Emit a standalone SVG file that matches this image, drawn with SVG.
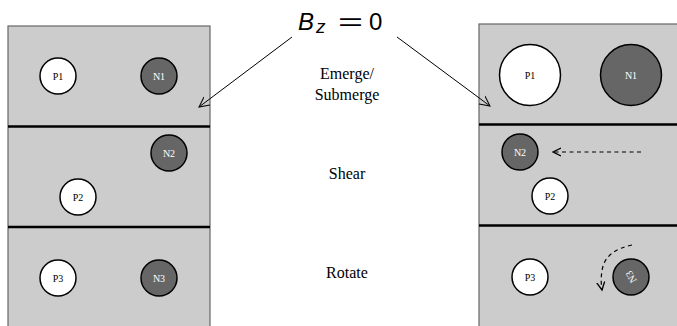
<svg xmlns="http://www.w3.org/2000/svg" width="677" height="326" viewBox="0 0 677 326">
<defs>
<marker id="openArrow" markerWidth="12" markerHeight="12" refX="10" refY="5" orient="auto" markerUnits="userSpaceOnUse" viewBox="0 0 12 10">
<path d="M0,0 L10,5 L0,10" fill="none" stroke="#000" stroke-width="1"/>
</marker>
<marker id="dashArrow" markerWidth="10" markerHeight="10" refX="8" refY="5" orient="auto" markerUnits="userSpaceOnUse" viewBox="0 0 10 10">
<path d="M0,1 L8,5 L0,9" fill="none" stroke="#000" stroke-width="1.3"/>
</marker>
</defs>
<style>
.panel{fill:#cccccc;stroke:#666;stroke-width:1.2}
.sep{stroke:#000;stroke-width:2.6}
.p{fill:#fff;stroke:#000;stroke-width:1.5}
.n{fill:#666;stroke:#000;stroke-width:1.5}
.lp{font-family:'Liberation Serif','Times New Roman',serif;font-size:10px;fill:#000;text-anchor:middle}
.ln{font-family:'Liberation Serif','Times New Roman',serif;font-size:10px;fill:#fff;text-anchor:middle}
.lbl{font-family:'Liberation Serif','Times New Roman',serif;font-size:16px;fill:#000;text-anchor:middle}
.math{font-family:'Liberation Sans',Arial,sans-serif;font-size:24px;fill:#000}
.conn{stroke:#000;stroke-width:1;fill:none}
.dash{stroke:#000;stroke-width:1.2;fill:none;stroke-dasharray:4,3.5}
</style>
<g id="left-panel">
<rect class="panel" x="8" y="26" width="202" height="310"/>
<line class="sep" x1="8" y1="126.5" x2="210" y2="126.5"/>
<line class="sep" x1="8" y1="227" x2="210" y2="227"/>
</g>
<g id="right-panel">
<rect class="panel" x="479" y="24" width="210" height="310"/>
<line class="sep" x1="479" y1="124.5" x2="677" y2="124.5"/>
<line class="sep" x1="479" y1="225.5" x2="677" y2="225.5"/>
</g>
<g id="L-P1"><circle class="p" cx="58" cy="76" r="18"/><text class="lp" x="58" y="79.5">P1</text></g>
<g id="L-N1"><circle class="n" cx="159" cy="76" r="18"/><text class="ln" x="159" y="79.5">N1</text></g>
<g id="L-N2"><circle class="n" cx="169" cy="153" r="18"/><text class="ln" x="169" y="156.5">N2</text></g>
<g id="L-P2"><circle class="p" cx="78" cy="197" r="18"/><text class="lp" x="78" y="200.5">P2</text></g>
<g id="L-P3"><circle class="p" cx="58" cy="278" r="18"/><text class="lp" x="58" y="281.5">P3</text></g>
<g id="L-N3"><circle class="n" cx="159" cy="278" r="18"/><text class="ln" x="159" y="281.5">N3</text></g>
<g id="R-P1"><circle class="p" cx="530" cy="75" r="30.5"/><text class="lp" x="530" y="78.5">P1</text></g>
<g id="R-N1"><circle class="n" cx="631" cy="75" r="30.5"/><text class="ln" x="631" y="78.5">N1</text></g>
<g id="R-N2"><circle class="n" cx="520" cy="152" r="18"/><text class="ln" x="520" y="155.5">N2</text></g>
<g id="R-P2"><circle class="p" cx="550" cy="196" r="18"/><text class="lp" x="550" y="199.5">P2</text></g>
<g id="R-P3"><circle class="p" cx="530" cy="277" r="18"/><text class="lp" x="530" y="280.5">P3</text></g>
<g id="R-N3"><circle class="n" cx="631" cy="277" r="18"/><text class="ln" x="631" y="280.5" transform="rotate(-120 631 277)">N3</text></g>
<g id="labels">
<text class="math" x="298" y="30"><tspan font-style="italic">B</tspan><tspan x="316" y="33" font-style="italic" font-size="19">z</tspan><tspan x="338" y="30" textLength="25" lengthAdjust="spacingAndGlyphs">=</tspan><tspan x="369" y="30">0</tspan></text>
<text class="lbl" x="347" y="79">Emerge/</text>
<text class="lbl" x="347" y="100">Submerge</text>
<text class="lbl" x="347" y="179">Shear</text>
<text class="lbl" x="347" y="278">Rotate</text>
</g>
<g id="connectors">
<line class="conn" x1="292" y1="37" x2="199" y2="107" marker-end="url(#openArrow)"/>
<line class="conn" x1="397" y1="37" x2="490" y2="106" marker-end="url(#openArrow)"/>
<line class="dash" x1="641" y1="152" x2="553" y2="152" marker-end="url(#dashArrow)"/>
<path class="dash" d="M632,245 Q608,250 603,266 Q600,278 602,290" marker-end="url(#dashArrow)"/>
</g>
</svg>
